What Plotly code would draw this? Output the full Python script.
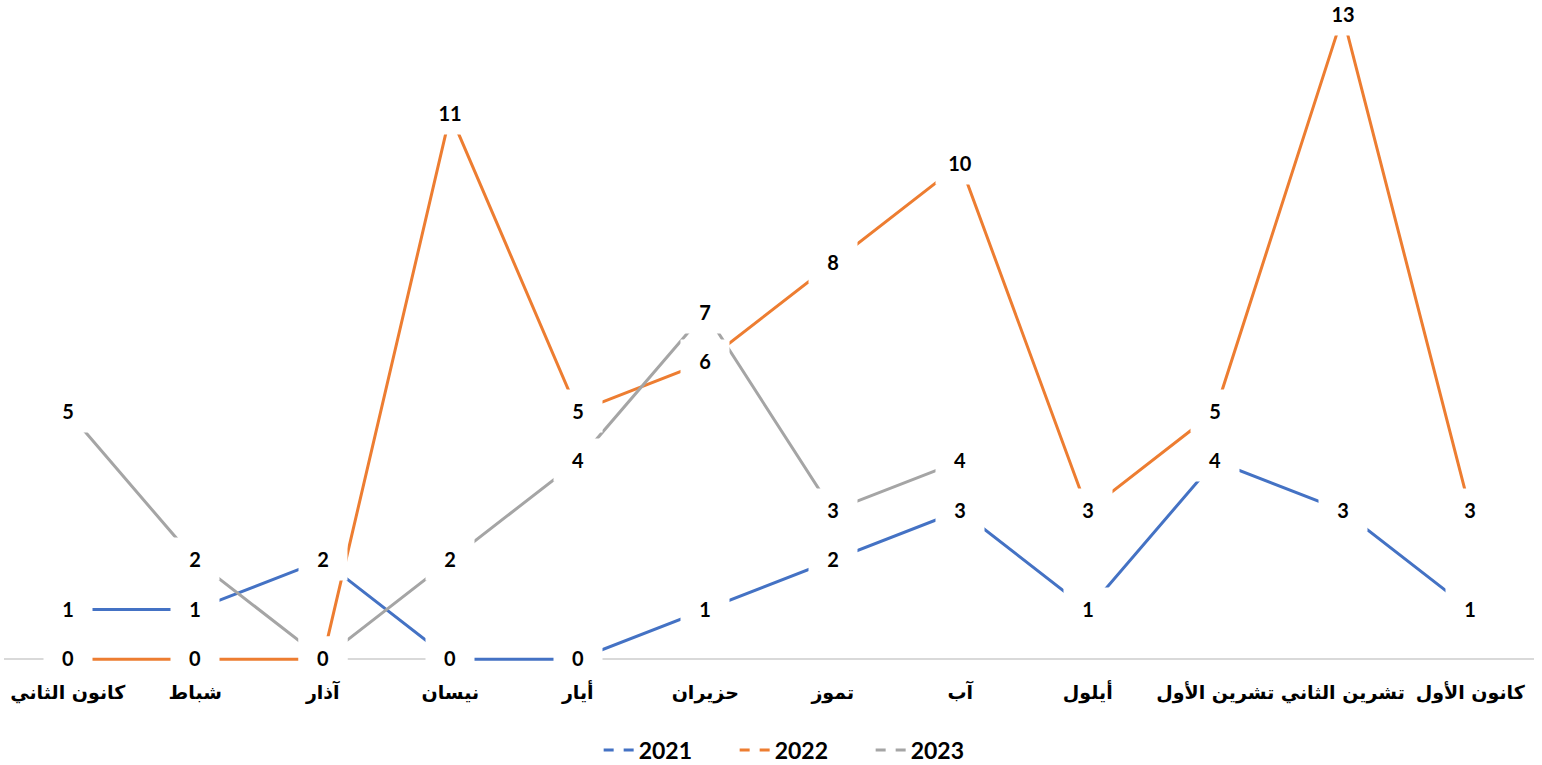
import plotly.graph_objects as go

months = ["كانون الثاني", "شباط", "آذار", "نيسان", "أيار", "حزيران",
          "تموز", "آب", "أيلول", "تشرين الأول", "تشرين الثاني", "كانون الأول"]
s2021 = [1, 1, 2, 0, 0, 1, 2, 3, 1, 4, 3, 1]
s2022 = [0, 0, 0, 11, 5, 6, 8, 10, 3, 5, 13, 3]
s2023 = [5, 2, 0, 2, 4, 7, 3, 4, None, None, None, None]
series_names = ["2021", "2022", "2023"]
series_values = [s2021, s2022, s2023]
series_colors = ["#4472C4", "#ED7D31", "#A5A5A5"]

fig = go.Figure()
for name, vals, color in zip(series_names, series_values, series_colors):
    fig.add_trace(go.Scatter(x=months, y=vals, mode="lines", name=name,
                             line=dict(color=color, width=3),
                             showlegend=False, hoverinfo="skip", connectgaps=False))
for name, vals, color in zip(series_names, series_values, series_colors):
    fig.add_trace(go.Scatter(x=[None], y=[None], mode="lines", name=name,
                             line=dict(color=color, width=3, dash="10px,10px")))

annotations = []
for name, vals, color in zip(series_names, series_values, series_colors):
    for m, v in zip(months, vals):
        if v is None:
            continue
        annotations.append(dict(x=m, y=v, xref="x", yref="y", text=str(v),
                                showarrow=False, bgcolor="white", width=46, height=40,
                                yshift=1,
                                font=dict(family="Lato", size=20, color="black", weight="bold")))

fig.update_layout(
    width=1542, height=765,
    margin=dict(l=4, r=8, t=3, b=91, autoexpand=False),
    paper_bgcolor="white", plot_bgcolor="white",
    annotations=annotations,
    showlegend=True,
    legend=dict(orientation="h", x=0.522, xanchor="center", yref="container", y=0.0196,
                yanchor="middle", entrywidth=91,
                font=dict(family="Lato", size=23, color="black", weight="bold")),
    xaxis=dict(type="category", categoryorder="array", categoryarray=months,
               range=[-0.5, 11.5], showline=False, showgrid=False, ticks="",
               zeroline=False, ticklabelstandoff=5, tickangle=0, automargin=False,
               tickfont=dict(family="DejaVu Sans", size=19, color="black", weight="bold")),
    yaxis=dict(range=[-0.3, 13.25], showticklabels=False, showgrid=False, ticks="",
               showline=False, zeroline=True, zerolinecolor="#D9D9D9", zerolinewidth=1.5,
               automargin=False),
)

fig.write_html("out.html")
